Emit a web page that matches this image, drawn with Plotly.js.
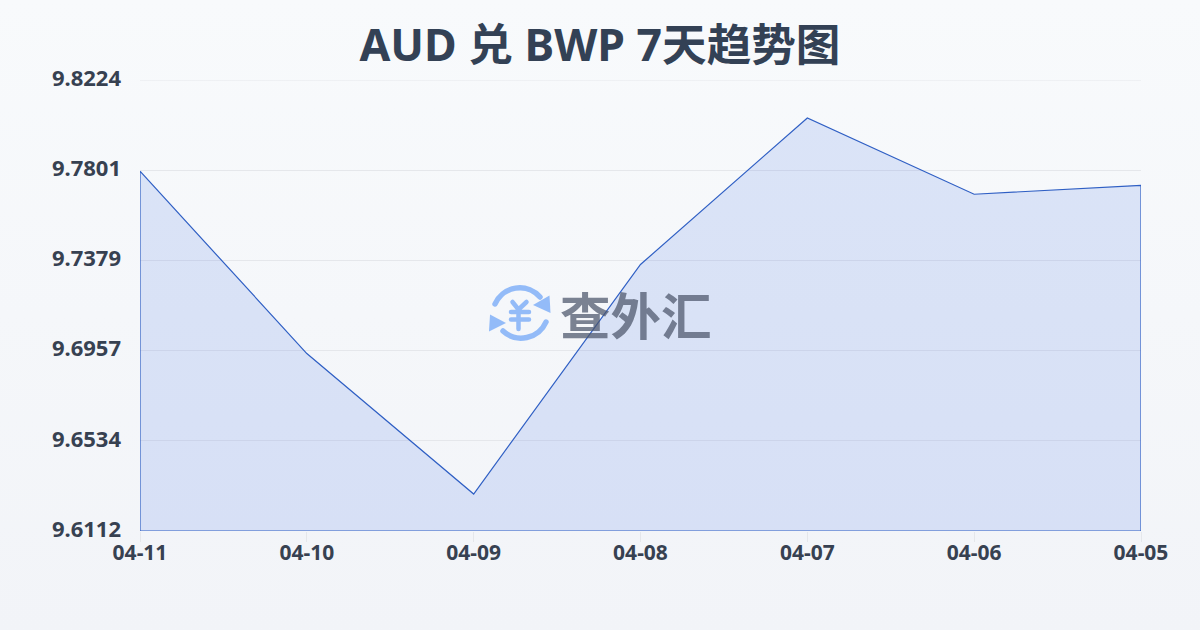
<!DOCTYPE html>
<html><head><meta charset="utf-8">
<script src="https://cdn.plot.ly/plotly-3.0.1.min.js"></script>
<style>
html,body{margin:0;padding:0;width:1200px;height:630px;overflow:hidden;background:linear-gradient(180deg,#f8fafc 0%,#f2f4f8 100%);}
#chart{width:1200px;height:630px;}
</style></head><body><div id="chart"></div>
<script>
const dates = ["04-11","04-10","04-09","04-08","04-07","04-06","04-05"];
const rates = [9.7797,9.6943,9.6285,9.7360,9.8046,9.7689,9.7731];
const yTicks = [9.6112,9.6534,9.6957,9.7379,9.7801,9.8224];
const titleText = "AUD 兑 BWP 7天趋势图";
const watermarkText = "查外汇";
const baseRate = yTicks[0];
const topRate = yTicks[yTicks.length-1];

const inkColor = "#374151";
const font = '"Noto Sans","Noto Sans CJK SC",sans-serif';
const W = 1001, H = 451, L = 140, B = 531;

const logo = `<svg xmlns="http://www.w3.org/2000/svg" width="72" height="70" viewBox="0 0 72 70">
<g fill="none" stroke="#93bbf8" stroke-width="5.500" stroke-linecap="round" stroke-linejoin="round">
<path d="M10 24 A27 27 0 0 1 55 17"/>
<path d="M61 42 A27 27 0 0 1 18 51"/>
<path d="M27.500 22 L33.500 29.500 L41.500 22 M33.500 29.500 L33.500 49 M26 32 L44 32 M26 39.500 L44 39.500" stroke-width="4.500"/>
</g>
<path d="M64.500 15.500 L65.500 33 L48 25 Z" fill="#93bbf8"/>
<path d="M5 34.500 L4 51.500 L21 43 Z" fill="#93bbf8"/>
</svg>`;

const xs = dates.concat([dates[dates.length-1], dates[0], dates[0]]);
const ys = rates.concat([baseRate, baseRate, rates[0]]);

Plotly.newPlot("chart",[{
  type:"scatter", mode:"lines", x:xs, y:ys,
  line:{color:"#2f5fc4",width:1.2,shape:"linear"},
  fill:"toself", fillcolor:"rgba(59,110,225,0.15)",
  hoverinfo:"skip", cliponaxis:false
}],{
  width:1200,height:630,
  margin:{l:140,r:59,t:80,b:99,pad:0},
  paper_bgcolor:"rgba(0,0,0,0)",plot_bgcolor:"rgba(0,0,0,0)",
  showlegend:false,
  title:{text:titleText,x:0.5,xanchor:"center",y:0.928,yanchor:"middle",
    font:{family:font,size:44.6,weight:700,color:"#334155"}},
  xaxis:{type:"category",categoryorder:"array",categoryarray:dates,range:[0,dates.length-1],
    showgrid:false,zeroline:false,showline:false,
    ticks:"outside",ticklen:10,tickwidth:1,tickcolor:"#e5e7eb",ticklabelstandoff:-7,
    tickfont:{family:font,size:21,weight:700,color:inkColor}},
  yaxis:{range:[baseRate,topRate],tickmode:"array",tickvals:yTicks,tickformat:".4f",
    showgrid:true,gridcolor:"#e5e7eb",gridwidth:1,zeroline:false,showline:false,
    ticks:"",ticklabelstandoff:18,ticklabelshift:-2,
    tickfont:{family:font,size:22,weight:700,color:inkColor}},
  shapes:[{type:"line",layer:"below",xref:"paper",yref:"y",x0:0,x1:1,y0:topRate,y1:topRate,
    line:{color:"#e5e7eb",width:1}}],
  annotations:[{xref:"paper",yref:"paper",x:(636-L)/W,y:(B-313)/H,
    xanchor:"center",yanchor:"middle",showarrow:false,text:watermarkText,
    font:{family:'"Noto Sans CJK SC",sans-serif',size:50.5,weight:700,color:"rgba(75,85,105,0.72)"}}],
  images:[{source:"data:image/svg+xml;charset=utf-8,"+encodeURIComponent(logo),
    xref:"paper",yref:"paper",x:(485-L)/W,y:(B-280)/H,
    sizex:72/W,sizey:70/H,sizing:"stretch",xanchor:"left",yanchor:"top",layer:"above"}]
},{displayModeBar:false,staticPlot:true});
</script></body></html>
